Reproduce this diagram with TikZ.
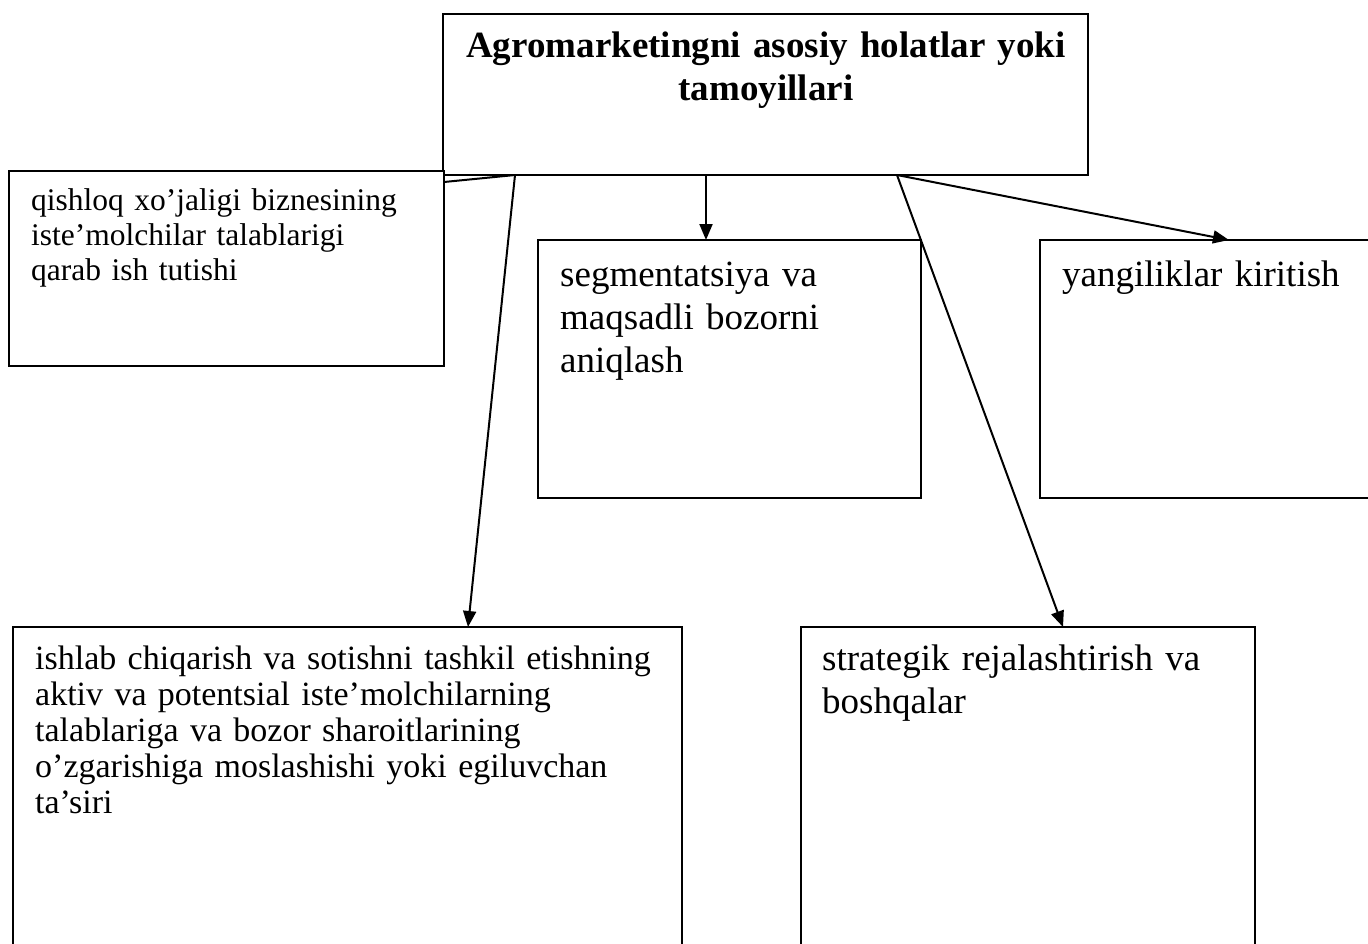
\documentclass[tikz,border=0pt]{standalone}
\usepackage{fontspec}
\setmainfont{Liberation Serif}
\usetikzlibrary{arrows.meta}

\begin{document}
\begin{tikzpicture}[x=1pt,y=-1pt]
      \tikzset{box/.style={draw, rectangle, line width=2pt, fill=white, inner sep=0pt, outer sep=0pt, anchor=north west},
               txt/.style={inner sep=0pt, anchor=base west, align=left},
               arrow/.style={line width=2pt, -{Triangle[length=16pt,width=13pt]}}}
      \useasboundingbox (0,0) rectangle (1368,943);
      \clip (0,0) rectangle (1368,943);
%% Boxes
	%oversti
      	\node[box, minimum width=645pt, minimum height=161pt] (main) at (443,14) {};
      	\node[box, minimum width=435pt, minimum height=195pt] (n1) at (9,171) {};
      	\node[box, minimum width=383pt, minimum height=258pt] (n2) at (538,240) {};
      	\node[box, minimum width=360pt, minimum height=258pt] (n3) at (1040,240) {};
	%nederst
      	\node[box, minimum width=669pt, minimum height=373pt] (n4) at (13,627) {};
      	\node[box, minimum width=454pt, minimum height=373pt] (n5) at (801,627) {};
%% Texts
      	\node[txt, anchor=base, align=center, text width=640pt, font=\bfseries\fontsize{37}{43}\selectfont] (maintext) at (766,57) {Agromarketingni asosiy holatlar yoki\\tamoyillari};
      	\node[txt, text width=410pt, font=\fontsize{31.5}{35}\selectfont] (n1text) at (31,210) {qishloq xo’jaligi biznesining\\iste’molchilar talablarigi\\qarab ish tutishi};
      	\node[txt, text width=355pt, font=\fontsize{37}{43}\selectfont] (n2text) at (560,286) {segmentatsiya va\\maqsadli bozorni\\aniqlash};
      	\node[txt, text width=300pt, font=\fontsize{37}{43}\selectfont] (n3text) at (1062,286) {yangiliklar kiritish};
      	\node[txt, text width=640pt, font=\fontsize{34}{36}\selectfont] (n4text) at (35,669) {ishlab chiqarish va sotishni tashkil etishning\\aktiv va potentsial iste’molchilarning\\talablariga va bozor sharoitlarining\\o’zgarishiga moslashishi yoki egiluvchan\\ta’siri};
      	\node[txt, text width=420pt, font=\fontsize{37}{43}\selectfont] (n5text) at (822,670) {strategik rejalashtirish va\\boshqalar};
%Edges
		\path [line width=2pt] ([xshift=72pt]main.south west) edge ([yshift=-11pt]n1.north east);
		\path [arrow] ([xshift=72pt]main.south west) edge ([xshift=455pt]n4.north west);
		\path [arrow] ([xshift=263pt]main.south west) edge ([xshift=168pt]n2.north west);
		\path [arrow] ([xshift=454pt]main.south west) edge ([xshift=189pt]n3.north west);
		\path [arrow] ([xshift=454pt]main.south west) edge ([xshift=262pt]n5.north west);

\end{tikzpicture}
\end{document}
